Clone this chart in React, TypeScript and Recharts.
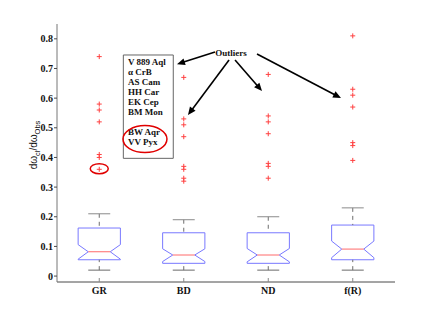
import React from 'react';
import {
  ComposedChart,
  XAxis,
  YAxis,
  Scatter,
  ReferenceLine,
  ReferenceArea,
  ReferenceDot,
} from 'recharts';

// ---------- data ----------
const categories = ['GR', 'BD', 'ND', 'f(R)'];
const categoryPositions = [1, 2, 3, 4];
const whiskerLow = [0.02, 0.02, 0.02, 0.02];
const q1 = [0.055, 0.043, 0.043, 0.055];
const notchLow = [0.057, 0.049, 0.048, 0.062];
const median = [0.082, 0.071, 0.071, 0.091];
const notchHigh = [0.106, 0.092, 0.093, 0.118];
const q3 = [0.162, 0.146, 0.146, 0.172];
const whiskerHigh = [0.21, 0.19, 0.2, 0.23];

const outliersGR = [0.74, 0.58, 0.56, 0.52, 0.41, 0.4, 0.36];
const outliersBD = [0.67, 0.53, 0.51, 0.47, 0.37, 0.36, 0.33, 0.32];
const outliersND = [0.68, 0.54, 0.52, 0.48, 0.38, 0.37, 0.33];
const outliersFR = [0.81, 0.63, 0.61, 0.57, 0.45, 0.44, 0.39];
const outlierGroups = [outliersGR, outliersBD, outliersND, outliersFR];

const yTicks = [0, 0.1, 0.2, 0.3, 0.4, 0.5, 0.6, 0.7, 0.8];
const yTickLabels = ['0', '0.1', '0.2', '0.3', '0.4', '0.5', '0.6', '0.7', '0.8'];

const annotatedStars = ['V 889 Aql', 'α CrB', 'AS Cam', 'HH Car', 'EK Cep', 'BM Mon', '', 'BW Aqr', 'VV Pyx'];
const outlierLabel = 'Outliers';

// annotation anchors (data units)
const starBox = { x1: 1.285, x2: 1.876, y1: 0.397, y2: 0.7455 };
const starTextAnchor = { x: 1.34, y: 0.722 };
const outlierLabelAnchor = { x: 2.559, y: 0.754 };
const highlightEllipse = { x: 1.541, y: 0.462 };
const grEllipse = { x: 1.0, y: 0.362 };
const arrows = [
  [{ x: 2.37, y: 0.7556 }, { x: 1.92, y: 0.7145 }],
  [{ x: 2.536, y: 0.7286 }, { x: 2.05, y: 0.5431 }],
  [{ x: 2.607, y: 0.7286 }, { x: 2.926, y: 0.6241 }],
  [{ x: 2.867, y: 0.7488 }, { x: 3.861, y: 0.6005 }],
];

// ---------- styles ----------
const BOX_HALF = 0.25;
const NOTCH_HALF = 0.13;
const AXIS = '#4a4a4a';
const BOX_COLOR = '#7878ff';
const MED_COLOR = '#ff6a6a';
const WHISK_COLOR = '#6e6e6e';
const OUT_COLOR = '#ff4040';
const SERIF = "'Liberation Serif', 'Times New Roman', serif";
const SANS = "'Liberation Sans', Arial, sans-serif";

const outline = (i: number) => {
  const c = categoryPositions[i];
  return [
    { x: c - BOX_HALF, y: q1[i] },
    { x: c + BOX_HALF, y: q1[i] },
    { x: c + BOX_HALF, y: notchLow[i] },
    { x: c + NOTCH_HALF, y: median[i] },
    { x: c + BOX_HALF, y: notchHigh[i] },
    { x: c + BOX_HALF, y: q3[i] },
    { x: c - BOX_HALF, y: q3[i] },
    { x: c - BOX_HALF, y: notchHigh[i] },
    { x: c - NOTCH_HALF, y: median[i] },
    { x: c - BOX_HALF, y: notchLow[i] },
    { x: c - BOX_HALF, y: q1[i] },
  ];
};

const Empty = () => <g />;

const Plus = (p: any) => {
  const { cx, cy } = p;
  if (cx == null || cy == null) return <g />;
  return (
    <g stroke={OUT_COLOR} strokeWidth={1}>
      <line x1={cx - 2.5} x2={cx + 2.5} y1={cy} y2={cy} />
      <line x1={cx} x2={cx} y1={cy - 2.5} y2={cy + 2.5} />
    </g>
  );
};

const LeftTick = (p: any) => {
  const { x, y, payload } = p;
  const idx = yTicks.indexOf(payload.value);
  return (
    <g>
      <line x1={x - 3} x2={x} y1={y} y2={y} stroke={AXIS} />
      <text x={x - 4} y={y} dy={3.5} textAnchor="end" fontFamily={SERIF} fontWeight="bold" fontSize={10} fill="#111">
        {idx >= 0 ? yTickLabels[idx] : String(payload.value)}
      </text>
    </g>
  );
};

const RightTick = (p: any) => {
  const { x, y } = p;
  return <line x1={x - 4} x2={x} y1={y} y2={y} stroke={AXIS} />;
};

const BottomTick = (p: any) => {
  const { x, y, payload } = p;
  const idx = categoryPositions.indexOf(payload.value);
  return (
    <g>
      <line x1={x} x2={x} y1={y} y2={y - 4} stroke="#888" />
      <text x={x} y={y + 12} textAnchor="middle" fontFamily={SERIF} fontWeight="bold" fontSize={10} fill="#111">
        {idx >= 0 ? categories[idx] : ''}
      </text>
    </g>
  );
};

const TopTick = (p: any) => {
  const { x, y } = p;
  return <line x1={x} x2={x} y1={y} y2={y + 3} stroke="#888" />;
};

const YLabel = () => (
  <text
    x={37}
    y={145}
    transform="rotate(-90, 37, 145)"
    textAnchor="middle"
    fontFamily={SANS}
    fontSize={10}
    fill="#111"
  >
    dω
    <tspan dy={3} fontSize={7.5}>cl</tspan>
    <tspan dy={-3}>/dω</tspan>
    <tspan dy={3} fontSize={7.5}>Obs</tspan>
  </text>
);

const ArrowShape = (p: any) => {
  const x1 = Number(p.x1), y1 = Number(p.y1), x2 = Number(p.x2), y2 = Number(p.y2);
  if ([x1, y1, x2, y2].some((v) => Number.isNaN(v))) return <g />;
  const dx = x2 - x1;
  const dy = y2 - y1;
  const len = Math.hypot(dx, dy) || 1;
  const ux = dx / len;
  const uy = dy / len;
  const hl = 8;
  const hw = 3.5;
  const bx = x2 - ux * hl;
  const by = y2 - uy * hl;
  return (
    <g>
      <line x1={x1} y1={y1} x2={bx + ux} y2={by + uy} stroke="#000" strokeWidth={1.6} />
      <polygon
        points={`${x2},${y2} ${bx - uy * hw},${by + ux * hw} ${bx + uy * hw},${by - ux * hw}`}
        fill="#000"
      />
    </g>
  );
};

const StarList = (p: any) => {
  const { cx, cy } = p;
  return (
    <g>
      {annotatedStars.map((s, i) => (
        <text
          key={i}
          x={cx}
          y={cy + i * 10}
          dy={3.2}
          fontFamily={SERIF}
          fontWeight="bold"
          fontSize={9}
          fill="#111"
        >
          {s}
        </text>
      ))}
    </g>
  );
};

const OutlierText = (p: any) => (
  <text x={p.cx} y={p.cy} dy={3.2} textAnchor="middle" fontFamily={SERIF} fontWeight="bold" fontSize={9} fill="#111">
    {outlierLabel}
  </text>
);

const BigEllipse = (p: any) => (
  <ellipse cx={p.cx} cy={p.cy} rx={22} ry={13.5} fill="none" stroke="#e00000" strokeWidth={1.5} />
);
const SmallEllipse = (p: any) => (
  <ellipse cx={p.cx} cy={p.cy} rx={9} ry={5} fill="none" stroke="#e00000" strokeWidth={1.5} />
);

export default function App() {
  const series: React.ReactNode[] = [];
  categoryPositions.forEach((c, i) => {
    series.push(
      <Scatter
        key={`box${i}`}
        data={outline(i)}
        line={{ stroke: BOX_COLOR, strokeWidth: 1 }}
        shape={Empty}
        fill={BOX_COLOR}
        isAnimationActive={false}
      />,
      <Scatter
        key={`med${i}`}
        data={[
          { x: c - NOTCH_HALF, y: median[i] },
          { x: c + NOTCH_HALF, y: median[i] },
        ]}
        line={{ stroke: MED_COLOR, strokeWidth: 1 }}
        shape={Empty}
        fill={MED_COLOR}
        isAnimationActive={false}
      />,
      <Scatter
        key={`wu${i}`}
        data={[
          { x: c, y: whiskerHigh[i] },
          { x: c, y: q3[i] },
        ]}
        line={{ stroke: WHISK_COLOR, strokeWidth: 1, strokeDasharray: '4 4' }}
        shape={Empty}
        fill={WHISK_COLOR}
        isAnimationActive={false}
      />,
      <Scatter
        key={`wl${i}`}
        data={[
          { x: c, y: whiskerLow[i] },
          { x: c, y: q1[i] },
        ]}
        line={{ stroke: WHISK_COLOR, strokeWidth: 1, strokeDasharray: '4 4' }}
        shape={Empty}
        fill={WHISK_COLOR}
        isAnimationActive={false}
      />,
      <Scatter
        key={`cu${i}`}
        data={[
          { x: c - NOTCH_HALF, y: whiskerHigh[i] },
          { x: c + NOTCH_HALF, y: whiskerHigh[i] },
        ]}
        line={{ stroke: '#8a8a8a', strokeWidth: 1 }}
        shape={Empty}
        fill={WHISK_COLOR}
        isAnimationActive={false}
      />,
      <Scatter
        key={`cl${i}`}
        data={[
          { x: c - NOTCH_HALF, y: whiskerLow[i] },
          { x: c + NOTCH_HALF, y: whiskerLow[i] },
        ]}
        line={{ stroke: '#6a6a6a', strokeWidth: 1 }}
        shape={Empty}
        fill={WHISK_COLOR}
        isAnimationActive={false}
      />,
      <Scatter
        key={`out${i}`}
        data={outlierGroups[i].map((v) => ({ x: c, y: v }))}
        shape={Plus}
        fill={OUT_COLOR}
        isAnimationActive={false}
      />
    );
  });

  return (
    <div style={{ position: 'absolute', left: 0, top: 0, width: 436, height: 327, background: '#fff' }}>
      <ComposedChart width={436} height={327} margin={{ top: 24, right: 41, bottom: 0, left: 0 }}>
        <XAxis
          type="number"
          dataKey="x"
          domain={[0.5, 4.5]}
          ticks={categoryPositions}
          interval={0}
          allowDataOverflow
          height={45}
          tickSize={0}
          tickMargin={0}
          tickLine={false}
          tick={<BottomTick />}
          axisLine={{ stroke: AXIS }}
        />
        <XAxis
          xAxisId="top"
          orientation="top"
          type="number"
          domain={[0.5, 4.5]}
          ticks={categoryPositions}
          interval={0}
          allowDataOverflow
          height={0}
          tickSize={0}
          tickMargin={0}
          tickLine={false}
          tick={<TopTick />}
          axisLine={{ stroke: AXIS }}
        />
        <YAxis
          type="number"
          dataKey="y"
          domain={[-0.02, 0.85]}
          ticks={yTicks}
          interval={0}
          allowDataOverflow
          width={57}
          tickSize={0}
          tickMargin={0}
          tickLine={false}
          tick={<LeftTick />}
          axisLine={{ stroke: '#777' }}
          label={{ content: () => <YLabel /> }}
        />
        <YAxis
          yAxisId="right"
          orientation="right"
          type="number"
          domain={[-0.02, 0.85]}
          ticks={yTicks}
          interval={0}
          allowDataOverflow
          width={0}
          tickSize={0}
          tickMargin={0}
          tickLine={false}
          tick={<RightTick />}
          axisLine={{ stroke: '#777', strokeWidth: 1.5 }}
        />
        <ReferenceArea
          x1={starBox.x1}
          x2={starBox.x2}
          y1={starBox.y1}
          y2={starBox.y2}
          fill="#fff"
          fillOpacity={1}
          stroke="#666"
          strokeWidth={1}
        />
        {series}
        <ReferenceDot x={starTextAnchor.x} y={starTextAnchor.y} r={1} shape={StarList} />
        <ReferenceDot x={outlierLabelAnchor.x} y={outlierLabelAnchor.y} r={1} shape={OutlierText} />
        <ReferenceDot x={highlightEllipse.x} y={highlightEllipse.y} r={1} shape={BigEllipse} />
        <ReferenceDot x={grEllipse.x} y={grEllipse.y} r={1} shape={SmallEllipse} />
        {arrows.map((seg, i) => (
          <ReferenceLine key={`ar${i}`} segment={seg} shape={ArrowShape} />
        ))}
      </ComposedChart>
    </div>
  );
}
